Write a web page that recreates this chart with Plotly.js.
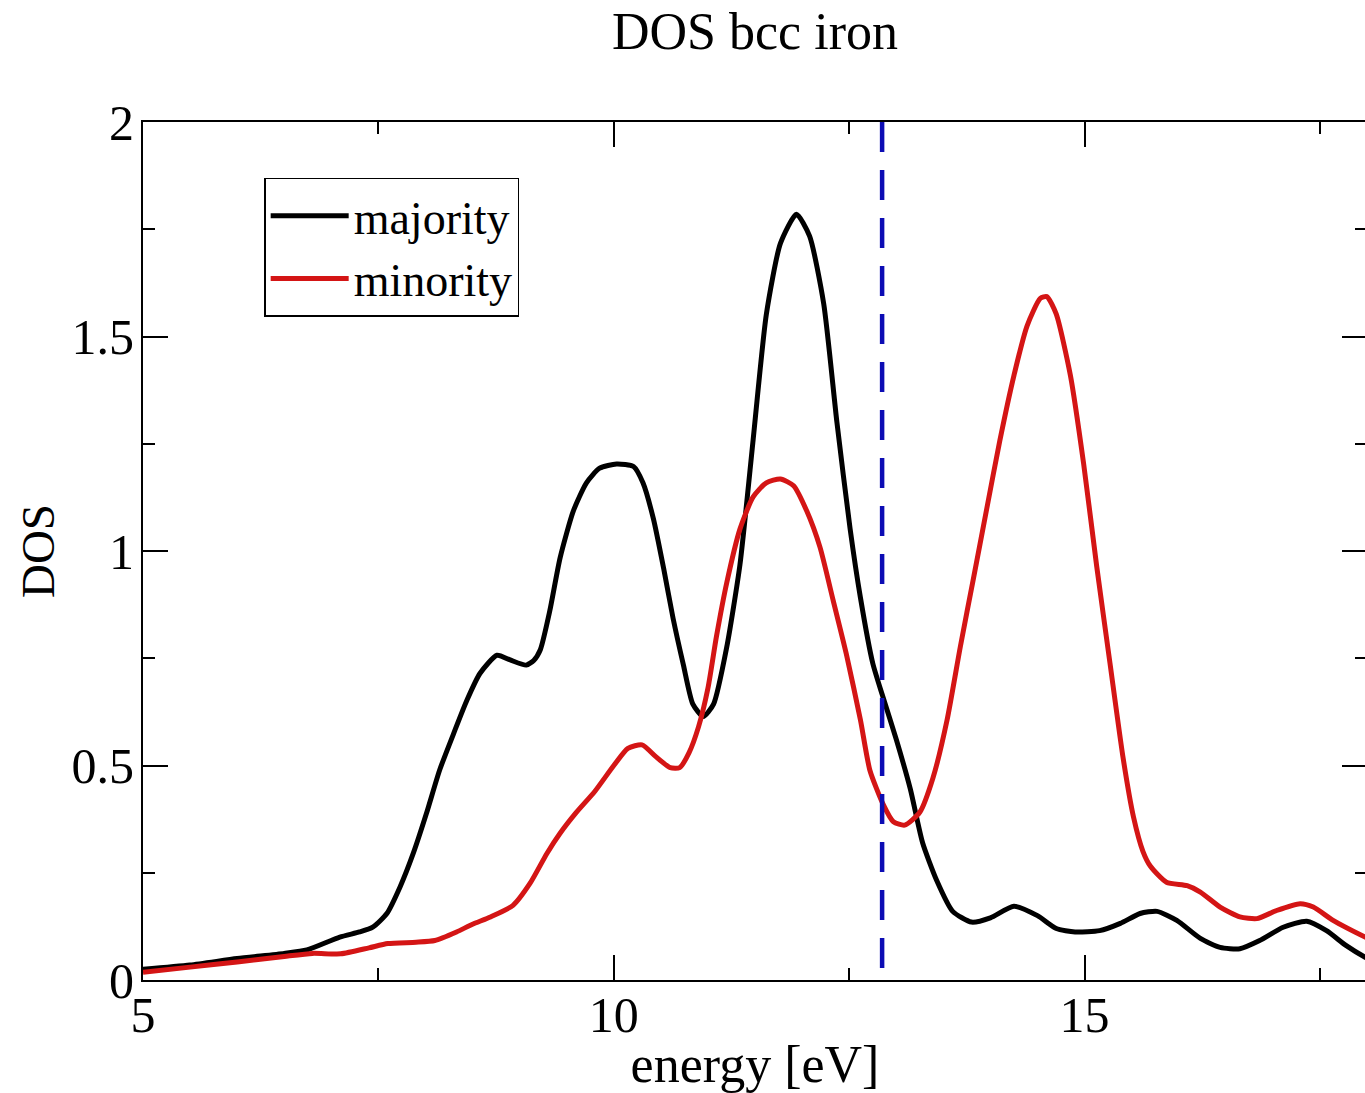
<!DOCTYPE html>
<html>
<head>
<meta charset="utf-8">
<script src="https://cdn.plot.ly/plotly-3.0.1.min.js"></script>
<style>
html, body { margin: 0; padding: 0; background: #fff; overflow: hidden; }
#chart { width: 1380px; height: 1093px; }
</style>
</head>
<body>
<div id="chart"></div>
<script>
// Majority-spin DOS (black)
const majorityEnergy = [5.0, 5.5, 6.0, 6.5, 6.74, 7.09, 7.3, 7.44, 7.59, 7.73, 7.87, 8.01, 8.15, 8.30, 8.44, 8.58, 8.76, 8.90, 9.07, 9.15, 9.22, 9.32, 9.43, 9.57, 9.71, 9.85, 10.03, 10.21, 10.31, 10.42, 10.53, 10.63, 10.74, 10.84, 10.95, 11.06, 11.20, 11.34, 11.48, 11.62, 11.77, 11.94, 12.08, 12.23, 12.37, 12.51, 12.62, 12.75, 12.86, 13.0, 13.15, 13.28, 13.43, 13.6, 13.8, 14.0, 14.25, 14.5, 14.7, 14.9, 15.16, 15.38, 15.59, 15.77, 15.98, 16.23, 16.44, 16.65, 16.86, 17.11, 17.36, 17.57, 17.78, 17.98, 18.0];
const majorityDOS = [0.025, 0.035, 0.05, 0.062, 0.07, 0.10, 0.112, 0.123, 0.155, 0.217, 0.295, 0.388, 0.489, 0.575, 0.652, 0.715, 0.757, 0.746, 0.734, 0.745, 0.77, 0.86, 0.984, 1.093, 1.159, 1.193, 1.203, 1.197, 1.159, 1.076, 0.959, 0.843, 0.734, 0.643, 0.614, 0.643, 0.776, 0.968, 1.259, 1.551, 1.717, 1.785, 1.734, 1.576, 1.30, 1.052, 0.891, 0.739, 0.659, 0.561, 0.445, 0.32, 0.232, 0.16, 0.135, 0.145, 0.172, 0.15, 0.12, 0.112, 0.115, 0.132, 0.155, 0.16, 0.139, 0.097, 0.076, 0.073, 0.092, 0.123, 0.137, 0.115, 0.08, 0.053, 0.051];

// Minority-spin DOS (red)
const minorityEnergy = [5.0, 5.5, 6.0, 6.5, 6.8, 7.1, 7.4, 7.6, 7.9, 8.1, 8.33, 8.5, 8.69, 8.93, 9.11, 9.29, 9.43, 9.6, 9.8, 10.0, 10.15, 10.3, 10.45, 10.6, 10.7, 10.8, 10.9, 11.0, 11.09, 11.2, 11.34, 11.48, 11.62, 11.77, 11.91, 12.05, 12.19, 12.33, 12.47, 12.62, 12.72, 12.86, 12.97, 13.09, 13.25, 13.39, 13.54, 13.68, 13.82, 13.96, 14.10, 14.25, 14.39, 14.53, 14.6, 14.7, 14.85, 14.99, 15.13, 15.27, 15.41, 15.52, 15.62, 15.70, 15.87, 16.09, 16.23, 16.44, 16.65, 16.83, 17.04, 17.29, 17.43, 17.64, 17.98, 18.0];
const minorityDOS = [0.018, 0.03, 0.042, 0.055, 0.062, 0.061, 0.075, 0.085, 0.088, 0.092, 0.112, 0.13, 0.147, 0.174, 0.225, 0.295, 0.342, 0.39, 0.44, 0.5, 0.54, 0.548, 0.52, 0.495, 0.495, 0.53, 0.59, 0.68, 0.80, 0.926, 1.051, 1.126, 1.159, 1.168, 1.152, 1.093, 1.009, 0.885, 0.76, 0.606, 0.489, 0.41, 0.369, 0.361, 0.391, 0.471, 0.606, 0.776, 0.936, 1.097, 1.257, 1.409, 1.525, 1.589, 1.593, 1.552, 1.409, 1.204, 0.963, 0.739, 0.517, 0.38, 0.30, 0.265, 0.228, 0.22, 0.205, 0.17, 0.147, 0.143, 0.162, 0.178, 0.17, 0.139, 0.10, 0.098];

// Fermi level (dashed marker), drawn top to bottom
const fermiEnergy = 12.85;
const fermiSpan = [2, 0];

const seriesNames = ["majority", "minority"];
const xTickValues = [5, 10, 15];
const yTickValues = [0, 0.5, 1, 1.5, 2];
const yTickLabels = ["0", "0.5", "1", "1.5", "2"];

const serif = "Liberation Serif, Times New Roman, serif";

const traces = [
  {
    x: majorityEnergy, y: majorityDOS, name: seriesNames[0],
    type: "scatter", mode: "lines",
    line: { color: "#000000", width: 5, shape: "spline", smoothing: 0.6 }
  },
  {
    x: minorityEnergy, y: minorityDOS, name: seriesNames[1],
    type: "scatter", mode: "lines",
    line: { color: "#d41515", width: 5, shape: "spline", smoothing: 0.6 }
  },
  {
    x: [fermiEnergy, fermiEnergy], y: fermiSpan, showlegend: false,
    type: "scatter", mode: "lines", hoverinfo: "skip",
    line: { color: "#0c0cb4", width: 4.5, dash: "30px,18px" }
  }
];

const layout = {
  width: 1380, height: 1093,
  margin: { l: 143, r: 13, t: 122, b: 113, pad: 0 },
  paper_bgcolor: "#ffffff", plot_bgcolor: "#ffffff",
  font: { family: serif, color: "#000000", size: 48 },
  title: {
    text: "DOS bcc iron",
    font: { family: serif, size: 52, color: "#000000" },
    xref: "paper", x: 0.5, xanchor: "center",
    yref: "container", y: 0.972, yanchor: "middle"
  },
  showlegend: true,
  legend: {
    x: 0.099, y: 0.935, xanchor: "left", yanchor: "top",
    bordercolor: "#000000", borderwidth: 1.5, bgcolor: "#ffffff",
    font: { family: serif, size: 46, color: "#000000" },
    tracegroupgap: 0, itemwidth: 78
  },
  xaxis: {
    range: [5, 18], autorange: false,
    tickmode: "array", tickvals: xTickValues, ticktext: xTickValues.map(String),
    ticks: "inside", ticklen: 25, tickwidth: 2, tickcolor: "#000",
    minor: { ticks: "inside", ticklen: 12, tickwidth: 2, tickcolor: "#000", dtick: 2.5, tick0: 5, showgrid: false },
    showline: true, linecolor: "#000", linewidth: 2, mirror: "allticks",
    showgrid: false, zeroline: false,
    ticklabelstandoff: -10,
    tickfont: { family: serif, size: 50 },
    title: { text: "energy [eV]", font: { family: serif, size: 52 }, standoff: 0 }
  },
  yaxis: {
    range: [0, 2], autorange: false,
    tickmode: "array", tickvals: yTickValues, ticktext: yTickLabels,
    ticks: "inside", ticklen: 25, tickwidth: 2, tickcolor: "#000",
    minor: { ticks: "inside", ticklen: 12, tickwidth: 2, tickcolor: "#000", dtick: 0.25, tick0: 0, showgrid: false },
    showline: true, linecolor: "#000", linewidth: 2, mirror: "allticks",
    showgrid: false, zeroline: false,
    ticklabelstandoff: -3,
    tickfont: { family: serif, size: 50 },
    title: { text: "DOS", font: { family: serif, size: 47 }, standoff: 2 }
  }
};

Plotly.newPlot("chart", traces, layout, { staticPlot: true, displayModeBar: false });
</script>
</body>
</html>
